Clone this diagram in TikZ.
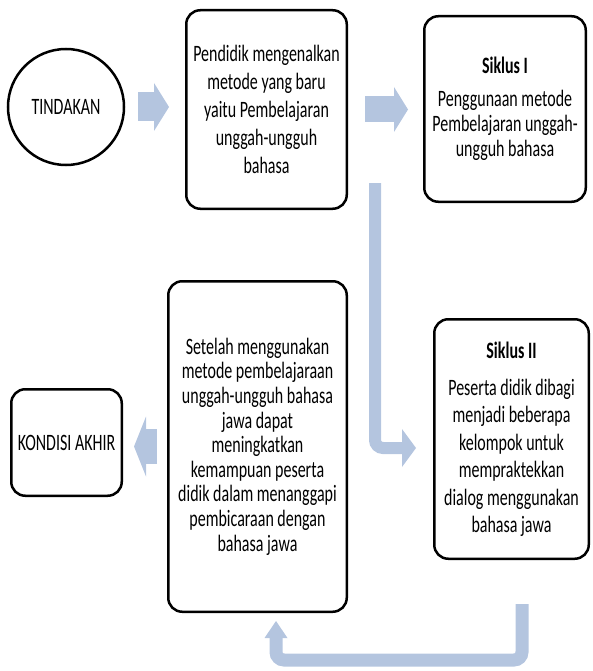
\documentclass[tikz,border=0pt]{standalone}
\usepackage{fontspec}
\setmainfont{Carlito}[FakeStretch=0.68]
\usetikzlibrary{arrows.meta,calc,positioning}
\definecolor{tkblue}{RGB}{180,197,223}

\begin{document}
\begin{tikzpicture}[
    x=1pt,y=-1pt,
    font=\fontsize{23.5}{27}\selectfont,
    tkcirc/.style={draw,circle,line width=2.5pt,minimum size=116pt,inner sep=0pt},
    tkbox/.style={draw,rounded corners=14pt,line width=2.5pt,align=center,inner sep=0pt},
    tkarrow/.style={draw=tkblue,line width=#1}]
  \useasboundingbox (0,0) rectangle (592,671);
  \node[tkcirc] (tind) at (66,107) {TINDAKAN};
  \node[tkbox,minimum width=160.5pt,minimum height=198.5pt,font=\fontsize{23.5}{28}\selectfont] (p1) at (266.5,109.5)
    {Pendidik mengenalkan\\ metode yang baru\\ yaitu Pembelajaran\\ unggah-ungguh\\ bahasa};
  \node[tkbox,minimum width=161.5pt,minimum height=185.5pt,font=\fontsize{23.5}{25}\selectfont] (s1) at (505,109)
    {\textbf{Siklus I}\\[8pt] Penggunaan metode\\ Pembelajaran unggah-\\ ungguh bahasa};
  \node[tkbox,minimum width=154.5pt,minimum height=239.5pt,font=\fontsize{23.5}{27.4}\selectfont] (s2) at (511.5,439)
    {\textbf{Siklus II}\\[10pt] Peserta didik dibagi\\ menjadi beberapa\\ kelompok untuk\\ mempraktekkan\\ dialog menggunakan\\ bahasa jawa};
  \node[tkbox,minimum width=178.5pt,minimum height=330.5pt,font=\fontsize{23.5}{24.6}\selectfont] (hasil) at (257.5,446.5)
    {Setelah menggunakan\\ metode pembelajaraan\\ unggah-ungguh bahasa\\ jawa dapat\\ meningkatkan\\ kemampuan peserta\\ didik dalam menanggapi\\ pembicaraan dengan\\ bahasa jawa};
  \node[tkbox,minimum width=110.5pt,minimum height=106.5pt] (akhir) at (66.5,442.5) {KONDISI AKHIR};
  \coordinate (k1) at (375,183);
  \coordinate (k2) at (400,660);
  % block arrows
  \draw[tkarrow=29pt,-{Triangle[length=15pt 0 0,width=48pt 0 0,line width=0pt 0 0]},
    shorten <=13pt,shorten >=16pt] (tind.east) -- (tind.east -| p1.west);
  \draw[tkarrow=26pt,-{Triangle[length=14pt 0 0,width=45pt 0 0,line width=0pt 0 0]},
    shorten <=17pt,shorten >=15pt] (p1.east) -- (p1.east -| s1.west);
  \draw[tkarrow=35pt,-{Triangle[length=12pt 0 0,width=60pt 0 0,line width=0pt 0 0]},
    shorten <=10pt,shorten >=11pt] (hasil.west) -- (hasil.west -| akhir.east);
  \draw[tkarrow=12pt,rounded corners=8pt,-{Triangle[length=14pt 0 0,width=38pt 0 0,line width=0pt 0 0]},
    shorten >=17pt] (k1) |- ([yshift=-9pt]s2.west);
  \draw[tkarrow=13pt,rounded corners=8pt,-{Triangle[length=17pt 0 0,width=23pt 0 0,line width=0pt 0 0]},
    shorten <=44pt,shorten >=8pt] ([xshift=10.5pt]s2.south) |- (k2) -| ([xshift=18.5pt]hasil.south);
\end{tikzpicture}
\end{document}
